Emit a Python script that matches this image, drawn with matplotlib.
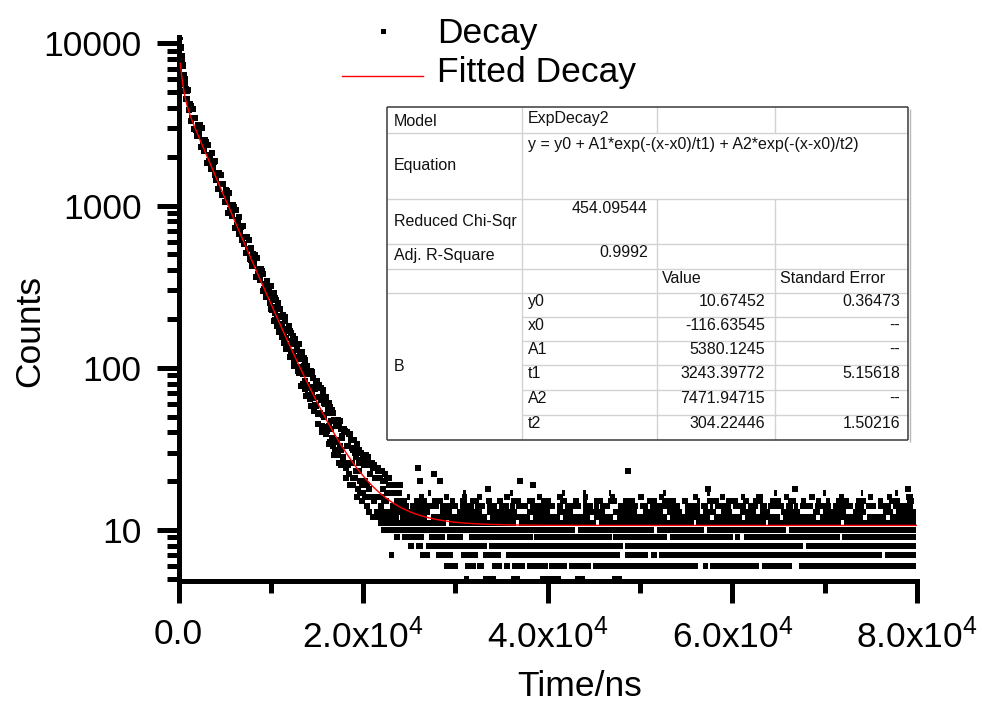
import numpy as np
import matplotlib
matplotlib.use("Agg")
import matplotlib.pyplot as plt
from matplotlib.lines import Line2D
from matplotlib.patches import Rectangle
from matplotlib.ticker import LogLocator, NullFormatter
from matplotlib.legend_handler import HandlerLine2D

# ---------------- data ----------------
# early (fast) part of the decay: channel times (ns) and counts
early_t = np.arange(200, 1000, 50)
early_counts = [10932, 9510, 9365, 7804, 8323, 7213, 7378, 6097,
                6392, 5657, 6049, 5108, 5261, 4573, 5074, 4560]

# main decay, one channel every 100 ns from 1000 ns to 23900 ns
decay_t = np.arange(1000, 24000, 100)
decay_counts = [
    5195, 3893, 4228, 3313, 4136, 3467, 3916, 2952, 3461, 2924,
    2672, 3143, 2748, 3121, 2282, 2993, 2354, 2540, 2160, 2544,
    2455, 1832, 2356, 1889, 2039, 1677, 2125, 1725, 1855, 1534,
    1881, 1444, 1597, 1268, 1599, 1350, 1535, 1162, 1366, 1158,
    1060, 1247, 1091, 1238, 905, 1188, 934, 1008, 858, 1011,
    981, 732, 941, 755, 815, 671, 851, 691, 743, 614,
    753, 578, 639, 508, 641, 542, 616, 466, 549, 465,
    426, 502, 439, 498, 365, 478, 377, 407, 346, 408,
    397, 296, 381, 306, 331, 272, 345, 280, 302, 250,
    319, 228, 264, 195, 270, 219, 261, 182, 229, 186,
    167, 210, 178, 213, 142, 206, 152, 170, 139, 174,
    170, 116, 165, 125, 140, 108, 151, 116, 130, 101,
    140, 93, 113, 77, 119, 92, 115, 74, 100, 78,
    68, 92, 76, 96, 58, 94, 65, 75, 59, 79,
    80, 45, 78, 53, 63, 44, 73, 51, 61, 43,
    66, 41, 53, 34, 57, 42, 55, 33, 48, 35,
    31, 45, 36, 48, 26, 47, 31, 38, 28, 40,
    41, 21, 40, 26, 33, 22, 39, 26, 32, 21,
    36, 21, 28, 16, 31, 23, 31, 17, 27, 19,
    17, 25, 20, 29, 14, 28, 18, 22, 16, 25,
    25, 12, 25, 16, 21, 13, 24, 16, 21, 14,
    23, 13, 18, 10, 20, 15, 21, 12, 19, 13,
    11, 17, 14, 19, 10, 19, 12, 15, 11, 17,
]

# interleaved channels (50 ns later) in the slow, noisy part of the decay
decay2_t = np.arange(10050, 24000, 100)
decay2_counts = [
    231, 278, 235, 288, 196, 238, 200, 250, 166, 229,
    178, 207, 155, 209, 165, 193, 131, 168, 137, 181,
    168, 126, 146, 123, 157, 102, 145, 114, 128, 95,
    94, 119, 98, 126, 79, 103, 83, 112, 67, 102,
    75, 91, 64, 95, 71, 87, 54, 74, 58, 83,
    79, 52, 66, 52, 75, 40, 69, 50, 60, 39,
    41, 56, 44, 61, 35, 47, 37, 53, 29, 48,
    35, 44, 29, 46, 33, 42, 25, 37, 27, 42,
    40, 24, 33, 25, 39, 19, 36, 26, 31, 19,
    21, 30, 23, 34, 18, 26, 20, 30, 15, 29,
    19, 25, 16, 27, 19, 26, 13, 22, 16, 26,
    24, 15, 21, 16, 24, 12, 23, 16, 21, 12,
    13, 20, 15, 22, 12, 17, 13, 21, 10, 19,
    13, 17, 11, 19, 13, 17, 9, 15, 11, 19,
]

# background tail: integer count levels and the time spans (ns) in which
# consecutive channels sit at that level (they merge into dashes)
tail_runs = {
    5: [(30900, 31500), (33000, 34400), (36000, 37000), (39200, 41400), (43000, 44000),
        (47000, 48000)],
    6: [(28710, 30260), (31060, 32210), (32320, 33110), (34010, 35020), (35270, 35920),
        (36180, 37550), (37800, 40070), (40180, 42130), (42350, 44650), (44940, 56300),
        (56770, 57380), (57560, 62900), (63260, 66500), (67230, 79930)],
    7: [(22760, 23370), (26110, 27270), (27920, 29720), (30580, 32420), (32970, 34910),
        (35450, 47820), (48360, 50820), (51140, 51790), (52080, 76250), (76500, 79930)],
    8: [(24810, 25460), (25750, 26440), (26800, 33400), (33620, 48190), (48360, 67660),
        (67950, 79930)],
    9: [(24200, 26550), (27090, 28890), (29140, 30800), (31420, 38450), (38520, 46920),
        (47100, 52870), (53230, 60090), (60270, 60810), (61240, 71630), (71920, 79930)],
    10: [(22400, 43000), (43300, 51500), (51800, 56900), (57200, 65800), (66100, 79930)],
    11: [(21600, 29000), (29300, 36600), (36900, 45200), (45500, 55800), (56100, 63600),
         (63900, 71800), (72100, 79930)],
    12: [(21140, 23660), (24000, 26910), (27300, 33400), (33760, 38090), (38400, 41340),
         (41700, 44580), (45000, 47100), (47500, 52870), (53230, 57560), (58000, 60990),
         (61350, 65140), (65500, 69110), (69470, 74160), (74600, 76680), (77100, 79930)],
    13: [(21860, 27270), (28350, 29610), (30150, 32860), (33400, 36650), (37730, 40250),
         (40970, 42780), (43860, 46200), (47100, 49630), (50350, 52510), (52870, 54500),
         (54860, 56480), (56840, 58280), (58820, 59910), (60810, 62610), (62970, 64060),
         (65320, 67300), (68750, 69470), (69830, 72350), (73070, 74520), (76320, 77400),
         (77760, 79930)],
    14: [(23480, 25000), (25100, 28200), (28350, 30300), (30510, 31960), (32100, 33200),
         (33400, 34480), (34700, 35800), (35920, 36460), (36600, 37900), (38090, 40800),
         (40970, 41700), (41900, 43600), (43860, 44940), (45000, 45500), (45660, 46740),
         (47640, 49810), (50000, 50900), (51070, 54320), (54860, 56480), (56600, 57400),
         (57560, 57920), (58100, 59900), (60090, 61530), (61700, 62800), (62970, 63700),
         (63900, 65600), (65860, 66580), (66700, 67100), (67300, 68750), (69000, 70700),
         (70910, 73070), (73300, 74300), (74520, 75600), (75800, 77200), (77400, 79570)],
    15: [(23300, 24740), (25460, 26910), (27500, 28600), (29430, 29970), (30500, 31200),
         (31600, 32500), (33300, 34000), (34480, 35200), (36000, 37100), (37730, 38600),
         (39300, 40400), (41340, 42060), (42700, 43400), (43860, 44220), (45000, 46000),
         (46560, 47470), (48200, 49500), (50710, 51790), (52400, 53900), (54500, 55220),
         (56120, 56480), (57200, 58500), (59300, 60600), (61200, 61800), (62250, 63340),
         (64100, 65300), (66000, 66900), (67480, 68020), (69110, 69650), (70190, 70550),
         (71200, 72600), (73430, 74520), (75780, 76320), (77000, 78200), (78900, 79700)],
    16: [(21860, 22400), (24740, 25100), (26000, 26600), (28800, 29300), (30690, 31240),
         (32320, 32860), (35300, 35900), (38800, 39400), (40970, 41700), (43860, 44400),
         (46740, 47280), (49800, 50400), (52000, 52600), (55760, 56300), (58700, 59200),
         (60900, 61400), (62610, 63340), (65600, 66100), (68300, 68900), (71600, 72100),
         (74700, 75200), (76800, 77300), (78840, 79570)],
    17: [(27000, 27400), (30800, 31100), (35900, 36200), (41500, 41900), (43800, 44100),
         (46600, 46900), (52500, 52800), (57200, 57600), (64500, 64800), (69800, 70100),
         (73900, 74200), (77600, 77900)],
}

# isolated high-count channels in the tail
iso_t = [25900, 27630, 26190, 28350, 37000, 38400, 33500, 48700, 57380, 79030, 66800]
iso_counts = [24, 22, 20, 20, 20, 19, 18, 23, 18, 18, 18]

# fit results (ExpDecay2)
param_names = ["y0", "x0", "A1", "t1", "A2", "t2"]
param_values = ["10.67452", "-116.63545", "5380.1245", "3243.39772", "7471.94715", "304.22446"]
param_errors = ["0.36473", "--", "--", "5.15618", "--", "1.50216"]
model_name = "ExpDecay2"
equation = "y = y0 + A1*exp(-(x-x0)/t1) + A2*exp(-(x-x0)/t2)"
chi_sqr = "454.09544"
adj_r2 = "0.9992"

xtick_values = [0, 20000, 40000, 60000, 80000]
xtick_labels = ["0.0", r"$2.0x10^{4}$", r"$4.0x10^{4}$", r"$6.0x10^{4}$", r"$8.0x10^{4}$"]
ytick_values = [10, 100, 1000, 10000]
ytick_labels = ["10", "100", "1000", "10000"]

# ---------------- style ----------------
plt.rcParams["font.family"] = ["Liberation Sans", "DejaVu Sans"]
plt.rcParams["mathtext.fontset"] = "custom"
plt.rcParams["mathtext.rm"] = "Liberation Sans"
plt.rcParams["mathtext.it"] = "Liberation Sans"
plt.rcParams["mathtext.default"] = "regular"

W, H = 982, 702
FS = 25.5
fig = plt.figure(figsize=(W / 100, H / 100), dpi=100)
ax_l, ax_r, ax_b, ax_t = 178.5, 917.0, 580.5, 36.7
ax = fig.add_axes([ax_l / W, 1 - ax_b / H, (ax_r - ax_l) / W, (ax_b - ax_t) / H])

MS = 5.0
mk = dict(ls="none", marker="s", ms=MS, mew=0, color="black", zorder=2, antialiased=False)
ax.plot(early_t, early_counts, **mk)
ax.plot(decay_t, decay_counts, **mk)
ax.plot(decay2_t, decay2_counts, **mk)
for level, spans in tail_runs.items():
    lc = ax.hlines([level] * len(spans), [s for s, e in spans], [e for s, e in spans],
                   colors="black", linewidth=4.3, zorder=2, antialiased=False)
    lc.set_capstyle("butt")
ax.plot(iso_t, iso_counts, **dict(mk, ms=4.6))

pv = dict(zip(param_names, [float(v) for v in param_values]))
fit_t = np.linspace(200, 80000, 4000)
fit_y = (pv["y0"] + pv["A1"] * np.exp(-(fit_t - pv["x0"]) / pv["t1"])
         + pv["A2"] * np.exp(-(fit_t - pv["x0"]) / pv["t2"]))
fitline, = ax.plot(fit_t, fit_y, color="#ff0000", lw=1.0, zorder=4)

ax.set_yscale("log")
ax.set_xlim(0, 80000)
ax.set_ylim(4.884, 11000)
ax.set_xticks(xtick_values, labels=xtick_labels)
ax.set_xticks([10000, 30000, 50000, 70000], minor=True)
ax.set_yticks(ytick_values, labels=ytick_labels)
ax.yaxis.set_minor_locator(LogLocator(base=10, subs=np.arange(2, 10)))
ax.yaxis.set_minor_formatter(NullFormatter())

for s in ["top", "right"]:
    ax.spines[s].set_visible(False)
for s in ["left", "bottom"]:
    ax.spines[s].set_linewidth(3.6)
ax.tick_params(which="major", direction="out", length=16, width=3.6, labelsize=FS)
ax.tick_params(which="minor", direction="out", length=8.5, width=3.6)
ax.tick_params(axis="x", which="major", pad=11)
ax.tick_params(axis="y", which="major", pad=10.5)

ax.set_xlabel("Time/ns", fontsize=FS, va="center")
ax.xaxis.set_label_coords((580 - ax_l) / (ax_r - ax_l), (ax_b - 686) / (ax_b - ax_t))
ax.set_ylabel("Counts", fontsize=FS, va="center")
ax.yaxis.set_label_coords((30 - ax_l) / (ax_r - ax_l), (ax_b - 331) / (ax_b - ax_t))


class LoweredLine(HandlerLine2D):
    """Legend line drawn a little below the text centre, as in the original."""
    def create_artists(self, legend, orig_handle, xdescent, ydescent, width, height,
                       fontsize, trans):
        arts = super().create_artists(legend, orig_handle, xdescent, ydescent, width,
                                      height, fontsize, trans)
        for a in arts:
            a.set_ydata(np.asarray(a.get_ydata()) - 4.5)
        return arts


leg_pts = Line2D([], [], ls="none", marker="s", ms=3.6, mew=0, color="black")
ax.legend(handles=[leg_pts, fitline], labels=["Decay", "Fitted Decay"], loc="upper left",
          bbox_to_anchor=(342 / W, 1 - 17.5 / H), bbox_transform=fig.transFigure,
          frameon=False, fontsize=FS, handlelength=2.29, handletextpad=0.4,
          labelspacing=0.15, borderpad=0, borderaxespad=0, numpoints=1,
          handler_map={fitline: LoweredLine()})

# ---------------- results table ----------------
def fx(x):
    return x / W

def fy(y):
    return 1 - y / H

def seg(x0, y0, x1, y1, color, lw, z=6):
    fig.add_artist(Line2D([fx(x0), fx(x1)], [fy(y0), fy(y1)], color=color, lw=lw,
                          transform=fig.transFigure, zorder=z, solid_capstyle="butt"))

TL, TR, TT, TB = 387, 908, 107, 440
C2, C3, C4 = 522, 657, 775
fig.add_artist(Rectangle((fx(TL), fy(TB)), (TR - TL) / W, (TB - TT) / H,
                         transform=fig.transFigure, facecolor="white",
                         edgecolor="none", zorder=5))
inner = "#d2d2d2"
for y in [133, 199, 244, 269, 293]:
    seg(TL, y, TR, y, inner, 1.0)
row_b = [293, 317, 341, 365, 390, 415, 440]
for y in row_b[1:-1]:
    seg(C2, y, TR, y, inner, 1.0)
seg(C2, TT, C2, TB, inner, 1.0)
for x in [C3, C4]:
    seg(x, TT, x, 133, inner, 1.0)
    seg(x, 199, x, TB, inner, 1.0)
outer = "#3a3a3a"
seg(TR + 1.5, TT + 2, TR + 1.5, TB + 2, "#b8b8b8", 1.0)
seg(TL, TT, TR, TT, outer, 1.1)
seg(TL, TB, TR, TB, outer, 1.1)
seg(TL, TT, TL, TB, outer, 1.1)
seg(TR, TT, TR, TB, outer, 1.1)

tfs = 11.5
tcol = "#111111"

def cell(s, x, y, ha="left"):
    fig.text(fx(x), fy(y), s, fontsize=tfs, color=tcol, ha=ha, va="baseline", zorder=7)

cell("Model", 394, 126)
cell(model_name, 528, 123)
cell("Equation", 394, 170)
cell(equation, 528, 149)
cell("Reduced Chi-Sqr", 394, 226)
cell(chi_sqr, 648, 213, "right")
cell("Adj. R-Square", 394, 260)
cell(adj_r2, 648, 257, "right")
cell("Value", 662, 283)
cell("Standard Error", 780, 283)
cell("B", 394, 371)
for i, (n, v, e) in enumerate(zip(param_names, param_values, param_errors)):
    yb = row_b[i] + 13
    cell(n, 528, yb)
    cell(v, 765, yb, "right")
    cell(e, 900, yb, "right")

fig.savefig("out.png", dpi=100)
